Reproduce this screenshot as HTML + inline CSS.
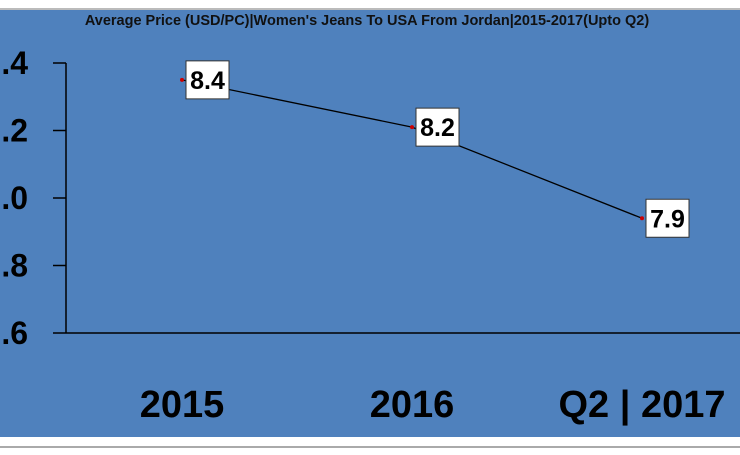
<!DOCTYPE html>
<html><head><meta charset="utf-8"><style>
body{margin:0;width:740px;height:450px;overflow:hidden;background:#fff;font-family:"Liberation Sans",sans-serif}
</style></head><body>
<svg width="740" height="450">
<rect x="0" y="0" width="740" height="450" fill="#fff"/>
<rect x="0" y="8" width="740" height="2" fill="#bbb"/>
<rect x="0" y="10" width="740" height="427" fill="#4F81BD"/>
<rect x="0" y="446" width="740" height="2" fill="#aaa"/>
<text x="367" y="25" text-anchor="middle" font-size="14.5" font-weight="bold" fill="#111">Average Price (USD/PC)|Women's Jeans To USA From Jordan|2015-2017(Upto Q2)</text>
<g id="axes"></g>
<g id="marks"></g>
</svg>
<script>
const categories=["2015","2016","Q2 | 2017"];
const values=[8.35,8.21,7.94];
const labels=["8.4","8.2","7.9"];
const yTicks=[8.4,8.2,8.0,7.8,7.6];
const yTickLabels=[".4",".2",".0",".8",".6"];
const NS="http://www.w3.org/2000/svg";
function y(v){return 333-(v-7.6)/0.8*270;}
function x(i){return 182+i*230;}
function mk(t,a,p){const e=document.createElementNS(NS,t);for(const k in a)e.setAttribute(k,a[k]);p.appendChild(e);return e;}
const ax=document.getElementById('axes'),mg=document.getElementById('marks');
let e=mk('line',{x1:66,y1:y(8.4),x2:66,y2:333,stroke:'#000','stroke-width':1.5},ax);


e=mk('line',{x1:66,y1:333,x2:740,y2:333,stroke:'#000','stroke-width':1.5},ax);


yTicks.forEach((t,i)=>{
 const l=mk('line',{x1:53,y1:y(t),x2:66,y2:y(t),stroke:'#000','stroke-width':1.5},ax);
 
 
 const tx=mk('text',{x:28,y:y(t)+11,'text-anchor':'end','font-size':32,'font-weight':'bold',fill:'#000'},ax);
 tx.textContent=yTickLabels[i];
 
 
});
categories.forEach((c,i)=>{
 const tx=mk('text',{x:x(i),y:417,'text-anchor':'middle','font-size':38,'font-weight':'bold',fill:'#000'},ax);
 tx.textContent=c;
 
 
});
const pts=values.map((v,i)=>x(i)+','+y(v)).join(' ');
e=mk('polyline',{points:pts,fill:'none',stroke:'#000','stroke-width':1.3},mg);


values.forEach((v,i)=>{
 const c=mk('circle',{cx:x(i),cy:y(v),r:2,fill:'#c00'},mg);
 
 
 const r=mk('rect',{x:x(i)+4,y:y(v)-19,width:43,height:38,fill:'#fff',stroke:'#333','stroke-width':1},mg);
 
 
 const t=mk('text',{x:x(i)+25.5,y:y(v)+9,'text-anchor':'middle','font-size':25,'font-weight':'bold',fill:'#000'},mg);
 t.textContent=labels[i];
 
 
});
</script>
</body></html>
